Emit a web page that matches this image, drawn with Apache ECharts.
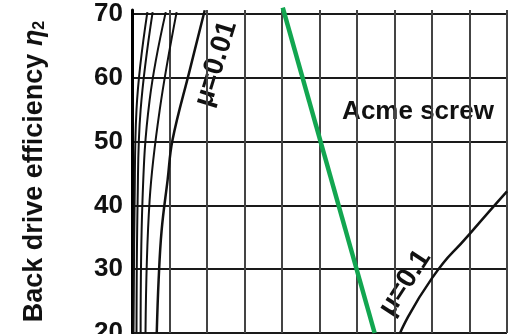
<!DOCTYPE html>
<html>
<head>
<meta charset="utf-8">
<script src="https://cdn.jsdelivr.net/npm/echarts@6/dist/echarts.min.js"></script>
<style>
  html, body { margin: 0; padding: 0; background: #fff; }
  #chart { width: 510px; height: 334px; }
</style>
</head>
<body>
<div id="chart"></div>
<script>
// lead angle (x, grid units) vs back drive efficiency (y, %)
// ball screw curves, crowded next to the axis
const curveA = [[0.41, 70.3], [0.12, 55.0], [0.07, 40.8], [0.04, 20]];
const curveB = [[0.55, 70.3], [0.23, 55.0], [0.15, 40.8], [0.12, 20]];
const curveC = [[0.90, 70.3], [0.47, 56.5], [0.28, 40.8], [0.23, 20]];
const curveD = [[1.19, 70.3], [0.74, 55.0], [0.47, 40.8], [0.36, 20]];
// labelled curves
const muSmall = [[1.94, 70.6], [1.54, 61.2], [1.08, 50.25], [0.95, 44.0], [0.79, 36.1], [0.71, 28.3], [0.66, 20]];
const muAcme = [[7.15, 20], [8.0, 28.6], [9.0, 35.5], [10, 42.2]];
// green marker line drawn over the scan
const greenLine = [[4.02, 71], [6.47, 20]];

const labelMuSmall = 'μ=0.01';
const labelMuAcme = 'μ=0.1';
const labelAcme = 'Acme screw';

const chart = echarts.init(document.getElementById('chart'));

const curve = (data, w, s) => ({
  type: 'line',
  data: data,
  smooth: s,
  symbol: 'none',
  clip: false,
  silent: true,
  lineStyle: { color: '#111', width: w }
});

const option = {
  animation: false,
  backgroundColor: '#fff',
  grid: { left: 132, right: 3, top: 10, bottom: 1, outerBoundsMode: 'none' },
  xAxis: {
    type: 'value',
    min: 0,
    max: 10,
    interval: 1,
    axisLine: { show: false },
    axisTick: { show: false },
    axisLabel: { show: false },
    splitLine: { lineStyle: { color: '#444', width: 2 } }
  },
  yAxis: {
    type: 'value',
    min: 20,
    max: 70.63,
    interval: 10,
    name: 'Back drive efficiency {e|η}{s|2}',
    nameLocation: 'middle',
    nameGap: 84,
    nameTextStyle: {
      fontFamily: 'Liberation Sans',
      fontSize: 27,
      fontWeight: 'bold',
      color: '#111',
      rich: {
        e: { fontFamily: 'Liberation Sans', fontSize: 27, fontStyle: 'italic', color: '#111' },
        s: { fontFamily: 'Liberation Sans', fontSize: 16, color: '#111', padding: [10, 0, 0, 0] }
      }
    },
    axisLine: { show: true, lineStyle: { color: '#000', width: 3 } },
    axisTick: { show: false },
    axisLabel: {
      fontFamily: 'Liberation Sans',
      fontSize: 26,
      fontWeight: 'bold',
      color: '#111',
      margin: 9,
      showMaxLabel: false
    },
    splitLine: { showMaxLine: false, lineStyle: { color: '#1a1a1a', width: 2 } }
  },
  graphic: [
    {
      type: 'text', x: 418, y: 112,
      style: {
        text: labelAcme, fontFamily: 'Liberation Sans', fontSize: 26, fontWeight: 'bold',
        fill: '#111', align: 'center', verticalAlign: 'middle'
      }
    },
    {
      type: 'text', x: 216, y: 64, rotation: 73 * Math.PI / 180,
      style: {
        text: labelMuSmall, fontFamily: 'Liberation Sans', fontSize: 28, fontWeight: 'bold',
        fill: '#111', align: 'center', verticalAlign: 'middle'
      }
    },
    {
      type: 'text', x: 405, y: 283, rotation: 57 * Math.PI / 180,
      style: {
        text: labelMuAcme, fontFamily: 'Liberation Sans', fontSize: 28, fontWeight: 'bold',
        fill: '#111', align: 'center', verticalAlign: 'middle'
      }
    }
  ],
  series: [
    curve(curveA, 2, 0.4),
    curve(curveB, 2, 0.4),
    curve(curveC, 2, 0.4),
    curve(curveD, 2, 0.4),
    curve(muSmall, 2.5, 0.4),
    curve(muAcme, 2.5, 0.6),
    {
      type: 'line',
      data: greenLine,
      symbol: 'none',
      clip: false,
      silent: true,
      lineStyle: { color: '#12a650', width: 4.5 },
      z: 5
    }
  ]
};

chart.setOption(option);
</script>
</body>
</html>
